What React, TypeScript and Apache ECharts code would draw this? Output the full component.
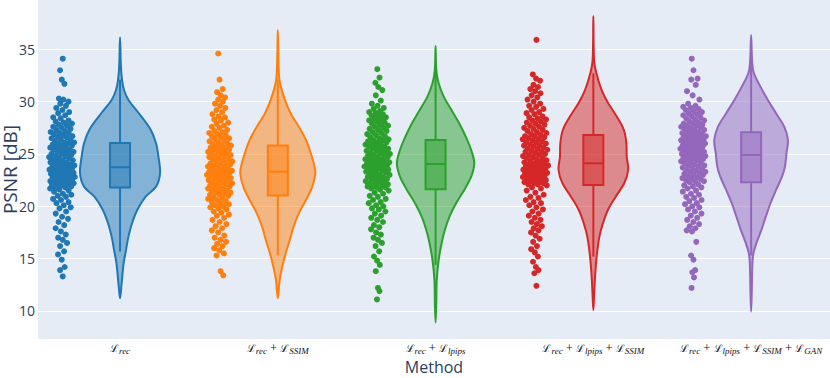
import React, { useEffect, useRef } from 'react';
import * as echarts from 'echarts';

// ---------- data ----------
const METHOD_TERMS: string[][] = [
  ['rec'],
  ['rec', 'SSIM'],
  ['rec', 'lpips'],
  ['rec', 'lpips', 'SSIM'],
  ['rec', 'lpips', 'SSIM', 'GAN'],
];
const COLORS = ['#1f77b4', '#ff7f0e', '#2ca02c', '#d62728', '#9467bd'];
const Y_TICKS = [10, 15, 20, 25, 30, 35];

// sample PSNR values (points)
const PSNR_REC = [
  13.3, 13.9, 14.2, 14.9, 15.4, 15.7, 16.2, 16.5, 16.8, 17.0,
  17.3, 17.6, 17.9, 18.2, 18.5, 18.8, 19.0, 19.3, 19.5, 19.8, 19.9,
  20.1, 20.3, 20.4, 20.6, 20.7, 20.9, 21.0, 21.1, 21.2, 21.4, 21.5, 21.6, 21.7, 21.8, 21.8, 21.9,
  22.0, 22.0, 22.1, 22.1, 22.2, 22.2, 22.3, 22.3, 22.4, 22.4, 22.5, 22.5, 22.6, 22.6, 22.7, 22.7, 22.8, 22.8, 22.9, 22.9,
  23.0, 23.0, 23.1, 23.1, 23.2, 23.2, 23.3, 23.3, 23.4, 23.4, 23.5, 23.5, 23.6, 23.6, 23.7, 23.7, 23.7, 23.8,
  23.9, 23.9, 24.0, 24.0, 24.1, 24.2, 24.2, 24.3, 24.4, 24.4, 24.5, 24.6, 24.6, 24.7, 24.8, 24.8, 24.9, 25.0, 25.0,
  25.1, 25.2, 25.2, 25.3, 25.4, 25.4, 25.5, 25.6, 25.6, 25.7, 25.8, 25.8, 25.9, 26.0, 26.0, 26.1, 26.1, 26.2,
  26.3, 26.4, 26.5, 26.6, 26.6, 26.7, 26.8, 26.9, 27.0, 27.0, 27.1, 27.2, 27.3, 27.4, 27.5, 27.6, 27.7, 27.8,
  27.9, 28.0, 28.1, 28.2, 28.4, 28.5, 28.7, 28.9, 29.0, 29.2, 29.4, 29.6, 29.8, 30.0, 30.2, 30.3,
  31.7, 32.1, 33.0, 34.1,
];
const PSNR_REC_SSIM = [
  13.4, 13.8, 15.3, 15.5, 15.8, 16.0, 16.2, 16.4, 16.6, 16.8,
  17.0, 17.2, 17.5, 17.7, 17.9, 18.1, 18.3, 18.5, 18.7, 18.9,
  19.1, 19.2, 19.4, 19.5, 19.7, 19.8, 19.9,
  20.0, 20.1, 20.2, 20.3, 20.4, 20.5, 20.6, 20.7, 20.8, 20.9,
  21.0, 21.1, 21.1, 21.2, 21.3, 21.3, 21.4, 21.5, 21.5, 21.6, 21.7, 21.7, 21.8, 21.9, 21.9, 22.0, 22.1, 22.1, 22.2,
  22.3, 22.3, 22.4, 22.5, 22.5, 22.6, 22.7, 22.7, 22.8, 22.9, 22.9, 23.0, 23.0, 23.1, 23.1, 23.2, 23.2, 23.3, 23.3,
  23.4, 23.4, 23.5, 23.6, 23.6, 23.7, 23.8, 23.8, 23.9, 24.0, 24.0, 24.1, 24.2, 24.3, 24.3, 24.4, 24.5, 24.5, 24.6,
  24.7, 24.8, 24.8, 24.9, 25.0, 25.0, 25.1, 25.2, 25.2, 25.3, 25.4, 25.4, 25.5, 25.6, 25.6, 25.7, 25.8, 25.8,
  25.9, 26.0, 26.1, 26.2, 26.3, 26.4, 26.5, 26.6, 26.7, 26.8, 26.9, 27.0, 27.1, 27.2, 27.3, 27.5, 27.6, 27.7,
  27.9, 28.0, 28.2, 28.3, 28.5, 28.6, 28.8, 29.0, 29.2, 29.4, 29.6, 29.8, 30.0, 30.2, 30.4, 30.6,
  30.9, 31.2, 32.1, 34.6,
];
const PSNR_REC_LPIPS = [
  11.1, 11.9, 12.2, 13.8, 14.4, 14.8, 15.2, 15.7, 16.2, 16.5, 16.8,
  17.0, 17.3, 17.5, 17.8, 18.0, 18.2, 18.5, 18.7, 18.9, 19.1, 19.3,
  19.5, 19.7, 19.8, 20.0, 20.1, 20.3, 20.4, 20.6, 20.7, 20.9, 21.0, 21.2, 21.3, 21.5, 21.6,
  21.7, 21.8, 21.8, 21.9, 22.0, 22.0, 22.1, 22.2, 22.2, 22.3, 22.4, 22.4, 22.5, 22.6, 22.6, 22.7, 22.8, 22.8, 22.9,
  23.0, 23.0, 23.1, 23.2, 23.2, 23.3, 23.4, 23.4, 23.5, 23.6, 23.6, 23.7, 23.7, 23.8, 23.8, 23.9, 23.9, 24.0, 24.0,
  24.1, 24.1, 24.2, 24.2, 24.3, 24.4, 24.4, 24.5, 24.5, 24.6, 24.7, 24.7, 24.8, 24.9, 24.9, 25.0, 25.1, 25.1, 25.2,
  25.3, 25.3, 25.4, 25.5, 25.5, 25.6, 25.7, 25.7, 25.8, 25.9, 25.9, 26.0, 26.1, 26.1, 26.2, 26.3, 26.3, 26.4,
  26.5, 26.6, 26.7, 26.8, 26.9, 27.0, 27.1, 27.2, 27.3, 27.4, 27.5, 27.6, 27.7, 27.8, 27.9, 28.0,
  28.1, 28.2, 28.3, 28.4, 28.5, 28.6, 28.7, 28.8, 28.9, 29.0, 29.1, 29.3, 29.4, 29.6, 29.8,
  30.1, 30.6, 31.1, 31.4, 31.8, 32.3, 33.1,
];
const PSNR_REC_LPIPS_SSIM = [
  12.4, 13.6, 13.9, 14.2, 14.7, 15.2, 15.6, 15.9, 16.2, 16.6, 16.9, 17.2,
  17.5, 17.7, 17.9, 18.1, 18.3, 18.5, 18.7, 18.9, 19.1, 19.3,
  19.5, 19.7, 19.9, 20.1, 20.3, 20.4, 20.6, 20.8, 20.9, 21.1, 21.3, 21.5, 21.7, 21.8, 22.0,
  22.1, 22.1, 22.2, 22.2, 22.3, 22.3, 22.4, 22.5, 22.5, 22.6, 22.6, 22.7, 22.8, 22.8, 22.9, 22.9, 23.0, 23.1, 23.1,
  23.2, 23.2, 23.3, 23.4, 23.4, 23.5, 23.5, 23.6, 23.6, 23.7, 23.7, 23.8, 23.8, 23.9, 23.9, 24.0, 24.0, 24.1, 24.1,
  24.2, 24.3, 24.3, 24.4, 24.5, 24.6, 24.6, 24.7, 24.8, 24.9, 24.9, 25.0, 25.1, 25.2, 25.2, 25.3, 25.4, 25.5, 25.5,
  25.6, 25.7, 25.8, 25.8, 25.9, 26.0, 26.1, 26.1, 26.2, 26.3, 26.4, 26.4, 26.5, 26.6, 26.7, 26.7, 26.8, 26.9,
  27.0, 27.1, 27.2, 27.3, 27.4, 27.5, 27.6, 27.7, 27.8, 27.9, 28.0, 28.1, 28.2, 28.3, 28.4, 28.5, 28.6,
  28.8, 28.9, 29.0, 29.2, 29.3, 29.5, 29.6, 29.8, 30.0, 30.2, 30.4, 30.6, 30.8, 31.0, 31.2, 31.4, 31.6,
  32.0, 32.2, 32.6, 35.9,
];
const PSNR_REC_LPIPS_SSIM_GAN = [
  12.2, 13.2, 13.7, 13.9, 14.9, 15.3, 16.6, 17.6, 17.7, 17.9,
  18.1, 18.3, 18.5, 18.7, 18.9, 19.1, 19.3, 19.5, 19.7, 19.9,
  20.0, 20.2, 20.3, 20.5, 20.6, 20.8, 20.9, 21.1, 21.2, 21.4, 21.5, 21.7, 21.8, 21.9, 22.0, 22.1, 22.3,
  22.4, 22.4, 22.5, 22.6, 22.7, 22.7, 22.8, 22.9, 23.0, 23.0, 23.1, 23.2, 23.3, 23.3, 23.4, 23.5, 23.6, 23.6, 23.7,
  23.8, 23.9, 23.9, 24.0, 24.1, 24.2, 24.2, 24.3, 24.4, 24.5, 24.5, 24.6, 24.6, 24.7, 24.7, 24.8, 24.8, 24.9, 24.9,
  25.0, 25.0, 25.1, 25.1, 25.2, 25.2, 25.3, 25.4, 25.4, 25.5, 25.5, 25.6, 25.7, 25.7, 25.8, 25.8, 25.9, 26.0, 26.0,
  26.1, 26.1, 26.2, 26.3, 26.3, 26.4, 26.4, 26.5, 26.6, 26.6, 26.7, 26.7, 26.8, 26.9, 26.9, 27.0, 27.0, 27.1,
  27.2, 27.3, 27.3, 27.4, 27.5, 27.5, 27.6, 27.7, 27.7, 27.8, 27.9, 27.9, 28.0, 28.1, 28.2,
  28.3, 28.4, 28.5, 28.6, 28.7, 28.8, 28.9, 29.0, 29.1, 29.2, 29.3, 29.4, 29.5, 29.6, 29.8,
  30.2, 30.6, 31.0, 31.6, 32.1, 32.2, 33.0, 34.1,
];

// violin outlines: PSNR level (top to bottom) and relative density width
const PROFILE_Y_REC = [36.15, 33.5, 32.07, 31.11, 30.16, 28.89, 27.29, 26.02, 24.74, 23.15, 21.88, 20.92, 19.65, 18.38, 17.1, 15.83, 14.55, 12.64, 11.21];
const PROFILE_W_REC = [0, 0.02, 0.05, 0.1, 0.21, 0.47, 0.77, 0.9, 0.96, 1.0, 0.9, 0.64, 0.43, 0.3, 0.21, 0.15, 0.09, 0.04, 0];
const PROFILE_Y_REC_SSIM = [36.85, 34.3, 32.07, 30.48, 28.89, 27.61, 26.34, 25.06, 23.31, 21.88, 20.6, 19.33, 18.06, 16.78, 15.51, 14.24, 12.96, 11.21];
const PROFILE_W_REC_SSIM = [0, 0.015, 0.045, 0.16, 0.34, 0.56, 0.75, 0.88, 1.0, 0.92, 0.75, 0.56, 0.42, 0.32, 0.21, 0.12, 0.05, 0];
const PROFILE_Y_REC_LPIPS = [35.32, 33.02, 31.75, 30.48, 29.2, 27.93, 26.66, 25.38, 24.11, 22.83, 21.56, 20.29, 19.01, 17.74, 16.47, 14.87, 12.96, 10.73, 8.89];
const PROFILE_W_REC_LPIPS = [0, 0.02, 0.08, 0.21, 0.41, 0.61, 0.78, 0.92, 1.0, 0.92, 0.74, 0.53, 0.36, 0.24, 0.155, 0.08, 0.03, 0.018, 0];
const PROFILE_Y_REC_LPIPS_SSIM = [38.18, 33.98, 32.71, 31.11, 29.84, 28.57, 27.29, 26.02, 24.74, 23.47, 22.2, 20.92, 19.65, 18.38, 17.1, 15.19, 13.28, 11.37, 10.1];
const PROFILE_W_REC_LPIPS_SSIM = [0, 0.02, 0.085, 0.235, 0.42, 0.66, 0.86, 0.93, 0.94, 0.98, 0.87, 0.63, 0.41, 0.27, 0.17, 0.093, 0.048, 0.02, 0];
const PROFILE_Y_REC_LPIPS_SSIM_GAN = [36.37, 33.66, 32.71, 31.43, 30.16, 28.89, 27.61, 26.34, 25.06, 23.79, 22.83, 21.56, 20.29, 19.01, 17.74, 16.47, 15.51, 14.55, 12.01, 9.94];
const PROFILE_W_REC_LPIPS_SSIM_GAN = [0, 0.03, 0.075, 0.25, 0.45, 0.67, 0.89, 0.99, 0.95, 0.91, 0.83, 0.67, 0.52, 0.395, 0.277, 0.142, 0.062, 0.035, 0.019, 0];

// box statistics: lower whisker, Q1, median, Q3, upper whisker
const BOX_REC = [15.67, 21.8, 23.73, 26.05, 32.1];
const BOX_REC_SSIM = [15.3, 21.02, 23.31, 25.8, 32.1];
const BOX_REC_LPIPS = [14.4, 21.62, 24.04, 26.34, 33.1];
const BOX_REC_LPIPS_SSIM = [15.2, 22.04, 24.11, 26.81, 32.7];
const BOX_REC_LPIPS_SSIM_GAN = [15.3, 22.29, 24.9, 27.07, 34.1];

// ---------- layout / style ----------
const VIOLIN_HALF_PX = [40, 37.5, 38.7, 35.5, 37.2];
const BOX_HALF_PX = 10;
const POINT_SHIFT = -0.368; // category units, left of the violin
const JITTER_MAX = 0.084; // category units

const GROUPS = [
  { pts: PSNR_REC, py: PROFILE_Y_REC, pw: PROFILE_W_REC, box: BOX_REC },
  { pts: PSNR_REC_SSIM, py: PROFILE_Y_REC_SSIM, pw: PROFILE_W_REC_SSIM, box: BOX_REC_SSIM },
  { pts: PSNR_REC_LPIPS, py: PROFILE_Y_REC_LPIPS, pw: PROFILE_W_REC_LPIPS, box: BOX_REC_LPIPS },
  { pts: PSNR_REC_LPIPS_SSIM, py: PROFILE_Y_REC_LPIPS_SSIM, pw: PROFILE_W_REC_LPIPS_SSIM, box: BOX_REC_LPIPS_SSIM },
  { pts: PSNR_REC_LPIPS_SSIM_GAN, py: PROFILE_Y_REC_LPIPS_SSIM_GAN, pw: PROFILE_W_REC_LPIPS_SSIM_GAN, box: BOX_REC_LPIPS_SSIM_GAN },
];

function rgba(hex: string, a: number) {
  const n = parseInt(hex.slice(1), 16);
  return `rgba(${(n >> 16) & 255},${(n >> 8) & 255},${n & 255},${a})`;
}

function widthAt(py: number[], pw: number[], v: number) {
  for (let k = 0; k < py.length - 1; k++) {
    if (v <= py[k] && v >= py[k + 1]) {
      const t = (py[k] - v) / (py[k] - py[k + 1]);
      return pw[k] + (pw[k + 1] - pw[k]) * t;
    }
  }
  return 0;
}

function buildOption() {
  const series: any[] = [];
  GROUPS.forEach((g, gi) => {
    const color = COLORS[gi];
    const data = g.pts.map((v, i) => {
      const r = ((i + 1) * 0.6180339887 + gi * 0.37) % 1;
      const f = Math.sqrt(Math.max(widthAt(g.py, g.pw, v), 0.02));
      return [gi + POINT_SHIFT + (r * 2 - 1) * JITTER_MAX * f, v];
    });
    series.push({
      type: 'scatter',
      data,
      symbolSize: 6,
      itemStyle: { color, opacity: 1 },
      silent: true,
      z: 2,
    });
    series.push({
      type: 'custom',
      data: [[gi, g.box[2]]],
      silent: true,
      z: 3,
      renderItem: (params: any, api: any) => {
        const x = api.value(0);
        const half = VIOLIN_HALF_PX[gi];
        const right: number[][] = [];
        const left: number[][] = [];
        g.py.forEach((y, k) => {
          const c = api.coord([x, y]);
          right.push([c[0] + g.pw[k] * half, c[1]]);
          if (k > 0 && k < g.py.length - 1) left.push([c[0] - g.pw[k] * half, c[1]]);
        });
        left.reverse();
        const poly = right.concat(left);
        const [lw, q1, med, q3, uw] = g.box.map((v) => api.coord([x, v]));
        const cx = lw[0];
        const stroke = { stroke: color, lineWidth: 2, fill: 'none' };
        return {
          type: 'group',
          children: [
            {
              type: 'polygon',
              shape: { points: poly, smooth: 0.35 },
              style: { fill: rgba(color, 0.5), stroke: color, lineWidth: 2 },
            },
            { type: 'line', shape: { x1: cx, y1: lw[1], x2: cx, y2: q1[1] }, style: stroke },
            { type: 'line', shape: { x1: cx, y1: q3[1], x2: cx, y2: uw[1] }, style: stroke },
            {
              type: 'rect',
              shape: { x: cx - BOX_HALF_PX, y: q3[1], width: BOX_HALF_PX * 2, height: q1[1] - q3[1] },
              style: { fill: rgba(color, 0.5), stroke: color, lineWidth: 2 },
            },
            { type: 'line', shape: { x1: cx - BOX_HALF_PX, y1: med[1], x2: cx + BOX_HALF_PX, y2: med[1] }, style: stroke },
          ],
        };
      },
    });
  });

  const labelColor = '#111';
  return {
    animation: false,
    grid: {
      left: 38,
      right: 0,
      top: 0,
      bottom: 39,
      show: true,
      backgroundColor: '#E5ECF6',
      borderWidth: 0,
      containLabel: false,
      outerBoundsMode: 'none',
    },
    xAxis: {
      type: 'value',
      min: -0.52,
      max: 4.5,
      name: 'Method',
      nameLocation: 'middle',
      nameGap: 20,
      nameMoveOverlap: false,
      nameTextStyle: { color: '#2a3f5f', fontSize: 16, lineHeight: 16, fontFamily: 'Open Sans' },
      axisLine: { show: false },
      axisTick: { show: false },
      splitLine: { show: false },
      axisLabel: {
        customValues: [0, 1, 2, 3, 4],
        margin: 2,
        formatter: (v: number) => {
          const terms = METHOD_TERMS[Math.round(v)] || [];
          return terms.map((t) => `{L|ℒ}{s|${t}}`).join('{p| + }');
        },
        rich: {
          L: { fontFamily: 'DejaVu Serif', fontSize: 10.5, lineHeight: 14, color: labelColor },
          s: { fontFamily: 'Liberation Serif', fontStyle: 'italic', fontSize: 9, lineHeight: 8, verticalAlign: 'bottom', color: labelColor },
          p: { fontFamily: 'Liberation Serif', fontSize: 12.5, lineHeight: 14, color: labelColor },
        },
      },
    },
    yAxis: {
      type: 'value',
      min: 7.32,
      max: 39.71,
      name: 'PSNR [dB]',
      nameLocation: 'middle',
      nameGap: 19,
      nameMoveOverlap: false,
      nameTextStyle: { color: '#2a3f5f', fontSize: 19, lineHeight: 19, fontFamily: 'Open Sans' },
      axisLine: { show: false },
      axisTick: { show: false, customValues: Y_TICKS },
      splitLine: { show: true, lineStyle: { color: '#ffffff', width: 1 } },
      axisLabel: {
        customValues: Y_TICKS,
        margin: 3,
        color: '#2a3f5f',
        fontSize: 14,
        fontFamily: 'Open Sans',
      },
    },
    series,
  };
}

export default function App() {
  const ref = useRef<HTMLDivElement>(null);
  useEffect(() => {
    if (!ref.current) return;
    const chart = echarts.init(ref.current, null, { renderer: 'svg' });
    chart.setOption(buildOption() as any);
    return () => chart.dispose();
  }, []);
  return (
    <div
      ref={ref}
      style={{ position: 'fixed', left: 0, top: 0, width: 830, height: 378, background: '#ffffff' }}
    />
  );
}
